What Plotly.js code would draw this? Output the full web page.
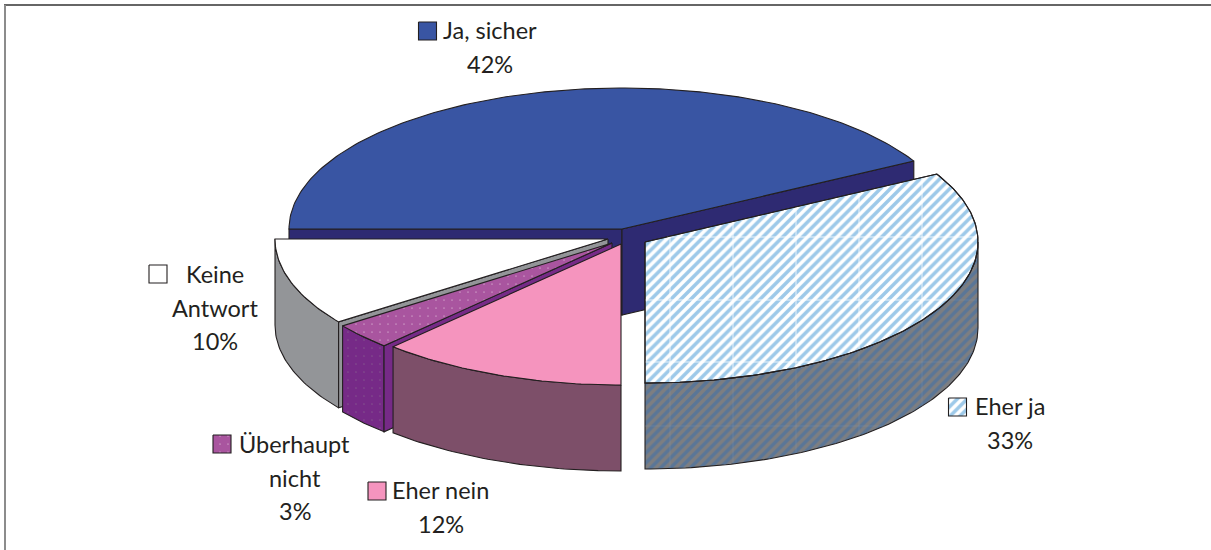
<!DOCTYPE html>
<html><head><meta charset="utf-8">
<script src="https://cdn.plot.ly/plotly-3.0.1.min.js"></script>
<style>html,body{margin:0;padding:0;background:#fff}</style></head>
<body><div id="chart" style="width:1211px;height:550px"></div>
<script>
// ---- data ----
const categories = ["Ja, sicher", "Eher ja", "Eher nein", "Überhaupt nicht", "Keine Antwort"];
const shares = [42, 33, 12, 3, 10];

// ---- geometry and styles of the tilted, exploded pie ----
const RX = 333, RY = 141, DEPTH = 86, START = 180; // degrees, running clockwise
const centres = [[622,229],[645,242],[621,244],[612,243],[608,239]];
const INK = "#231f20";
const stripeTop = {shape:"/", size:7, solidity:0.5, fgcolor:"#9dc9e9", bgcolor:"#ffffff", fillmode:"replace"};
const stripeSide = {shape:"/", size:7, solidity:0.5, fgcolor:"#5a7697", bgcolor:"#7d7e81", fillmode:"replace"};
const dotTop = {shape:".", size:8, solidity:0.015, fgcolor:"#f4e4f0", bgcolor:"#a9559f", fillmode:"replace"};
const dotSide = {shape:".", size:8, solidity:0.008, fgcolor:"#a9c9a0", bgcolor:"#762a87", fillmode:"replace"};
const styles = [
  {top:{color:"#3955a3"}, side:{color:"#2e2a72"}, cut:{color:"#2e2a72"}},
  {top:{pattern:stripeTop}, side:{pattern:stripeSide}, cut:{pattern:stripeSide}},
  {top:{color:"#f594be"}, side:{color:"#7d4f69"}, cut:{color:"#7d4f69"}},
  {top:{pattern:dotTop}, side:{pattern:dotSide}, cut:{color:"#762a87"}},
  {top:{color:"#ffffff"}, side:{color:"#939598"}, cut:{color:"#939598"}}
];
// which radial cut faces are visible (start edge, end edge), and the painting order (back to front)
const visibleCuts = [[true,true],[false,false],[false,false],[true,false],[true,false]];
const paintOrder = [0,4,3,2,1];
// faint seams of the hatch tiles on the "Eher ja" slice
const seamX = [670,733,796,859,922];
const seamY = [237,300,362,426];

// ---- slice angles from the values ----
const total = shares.reduce((a,b)=>a+b,0);
let running = START;
const angles = shares.map(v => { const a0 = running; running -= v/total*360; return [a0, running]; });

const traces = [];
function poly(xs, ys, st) {
  const t = {x:xs, y:ys, mode:"lines", type:"scatter", fill:"toself", hoverinfo:"skip",
    line:{color:INK, width:1.1}, showlegend:false};
  if (st.pattern) { t.fillpattern = st.pattern; t.fillcolor = st.pattern.bgcolor; }
  else t.fillcolor = st.color;
  traces.push(t);
}
function arc(c, a0, a1, dy) {
  const n = Math.max(4, Math.ceil(Math.abs(a1-a0)));
  const xs=[], ys=[];
  for (let i=0;i<=n;i++){ const a=(a0+(a1-a0)*i/n)*Math.PI/180;
    xs.push(c[0]+RX*Math.cos(a)); ys.push(c[1]-RY*Math.sin(a)+dy); }
  return [xs,ys];
}
function close(xs){ return xs.concat([xs[0]]); }
function inPoly(px,py,xs,ys){
  let inside=false;
  for(let i=0,j=xs.length-1;i<xs.length;j=i++){
    if((ys[i]>py)!==(ys[j]>py) && px<(xs[j]-xs[i])*(py-ys[i])/(ys[j]-ys[i])+xs[i]) inside=!inside;
  }
  return inside;
}
function seams(xs,ys,color){
  const sx=[],sy=[];
  const minX=Math.min(...xs),maxX=Math.max(...xs),minY=Math.min(...ys),maxY=Math.max(...ys);
  seamX.forEach(x=>{ for(let y=minY;y<=maxY;y+=1){ if(inPoly(x,y,xs,ys)){sx.push(x);sy.push(y);} else {sx.push(null);sy.push(null);} } sx.push(null);sy.push(null); });
  seamY.forEach(y=>{ for(let x=minX;x<=maxX;x+=1){ if(inPoly(x,y,xs,ys)){sx.push(x);sy.push(y);} else {sx.push(null);sy.push(null);} } sx.push(null);sy.push(null); });
  traces.push({x:sx,y:sy,mode:"lines",type:"scatter",hoverinfo:"skip",showlegend:false,connectgaps:false,line:{color,width:1}});
}
function drawSlice(i){
  const c=centres[i], [a0,a1]=angles[i], st=styles[i];
  const lo = a0>0 ? 0 : a0;
  if (a1<0) {
    const hi = Math.max(a1,-180);
    const [tx,ty]=arc(c,lo,hi,0), [bx,by]=arc(c,hi,lo,DEPTH);
    const wx=close(tx.concat(bx)), wy=close(ty.concat(by));
    poly(wx, wy, st.side);
    if(i===1) seams(wx,wy,"rgba(140,165,195,0.25)");
  }
  [a0,a1].forEach((a,k)=>{
    if(!visibleCuts[i][k]) return;
    const [px,py]=arc(c,a,a,0);
    const ex=px[0], ey=py[0];
    poly([c[0],ex,ex,c[0],c[0]],[c[1],ey,ey+DEPTH,c[1]+DEPTH,c[1]],st.cut);
  });
  const [tx,ty]=arc(c,a0,a1,0);
  const fx=close([c[0]].concat(tx)), fy=close([c[1]].concat(ty));
  poly(fx, fy, st.top);
  if(i===1){
    seams(fx,fy,"rgba(255,255,255,0.8)");
    poly(fx, fy, {color:"rgba(0,0,0,0)"});
  }
}
paintOrder.forEach(drawSlice);

// ---- legend-style data labels ----
const swatchSize = 18;
const labelLayout = [
  {lines:["Ja, sicher","42%"], cx:490, y0:30, sw:[418.5,22]},
  {lines:["Eher ja","33%"], cx:1009.5, y0:406, sw:[948.5,398]},
  {lines:["Eher nein","12%"], cx:440.5, y0:490, sw:[368,482]},
  {lines:["Überhaupt","nicht","3%"], cx:294.5, y0:444, sw:[213,435]},
  {lines:["Keine","Antwort","10%"], cx:214.5, y0:274, sw:[149,265]}
];
const annotations=[];
labelLayout.forEach((l,i)=>{
  l.lines.forEach((s,k)=>annotations.push({x:l.cx,y:l.y0+k*33.5,xref:"x",yref:"y",text:s,showarrow:false,
    xanchor:"center",yanchor:"middle",font:{family:"Lato, sans-serif",size:23.5,color:INK}}));
  const [sx,sy]=l.sw;
  poly([sx,sx+swatchSize,sx+swatchSize,sx,sx],[sy,sy,sy+swatchSize,sy+swatchSize,sy],styles[i].top);
});

const hidden={visible:false,fixedrange:true};
Plotly.newPlot("chart",traces,{
  width:1211,height:550,margin:{l:0,r:0,t:0,b:0},
  paper_bgcolor:"#ffffff",plot_bgcolor:"#ffffff",
  xaxis:{...hidden,range:[0,1211]},
  yaxis:{...hidden,range:[550,0]},
  annotations,
  shapes:[
    {type:"line",xref:"x",yref:"y",x0:4,y0:5,x1:1211,y1:5,line:{color:"#333333",width:1.3}},
    {type:"line",xref:"x",yref:"y",x0:5,y0:5,x1:5,y1:550,line:{color:"#8c8c8c",width:2}}
  ]
},{displayModeBar:false,staticPlot:true});
</script></body></html>
